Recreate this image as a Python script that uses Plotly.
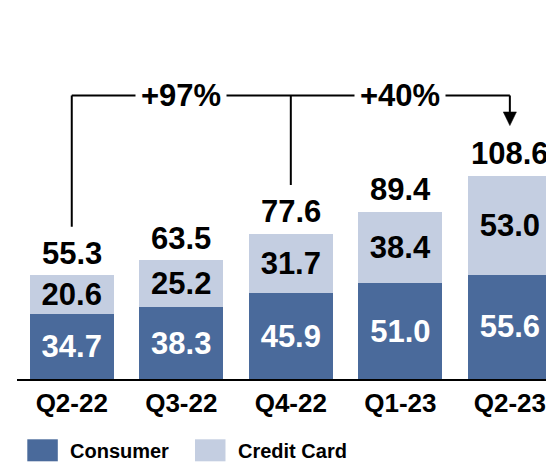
import plotly.graph_objects as go

categories = ["Q2-22", "Q3-22", "Q4-22", "Q1-23", "Q2-23"]
consumer = [34.7, 38.3, 45.9, 51.0, 55.6]
credit_card = [20.6, 25.2, 31.7, 38.4, 53.0]
totals = [55.3, 63.5, 77.6, 89.4, 108.6]
growth_labels = ["+97%", "+40%"]

C_CONSUMER = "#4A6A9B"
C_CREDIT = "#C4CEE1"
FONT = "Liberation Sans, Arial, sans-serif"
BIG = 31

xs = list(range(len(categories)))

fig = go.Figure()
fig.add_trace(go.Bar(
    x=xs, y=consumer, name="Consumer", marker=dict(color=C_CONSUMER, line=dict(width=0)),
    text=[f"{v:.1f}" for v in consumer], textposition="inside", insidetextanchor="middle",
    textangle=0, constraintext="none",
    textfont=dict(family=FONT, size=BIG, color="white", weight="bold"),
))
fig.add_trace(go.Bar(
    x=xs, y=credit_card, name="Credit Card", marker=dict(color=C_CREDIT, line=dict(width=0)),
    text=[f"{v:.1f}" for v in credit_card], textposition="inside", insidetextanchor="middle",
    textangle=0, constraintext="none",
    textfont=dict(family=FONT, size=BIG, color="black", weight="bold"),
))

annotations = []
for i, t in enumerate(totals):
    annotations.append(dict(x=i, y=t, xref="x", yref="y", text=f"{t:.1f}", showarrow=False,
                            yanchor="middle", yshift=22,
                            font=dict(family=FONT, size=BIG, color="black", weight="bold")))

# connectors
LINE_Y = 151.4
GAP = 26
shapes = []
lw = 2
shapes.append(dict(type="line", xref="x", yref="y", x0=0, x1=0, y0=totals[0] + GAP, y1=LINE_Y,
                   line=dict(color="black", width=lw)))
shapes.append(dict(type="line", xref="x", yref="y", x0=0, x1=4, y0=LINE_Y, y1=LINE_Y,
                   line=dict(color="black", width=lw)))
shapes.append(dict(type="line", xref="x", yref="y", x0=2, x1=2, y0=totals[2] + GAP, y1=LINE_Y,
                   line=dict(color="black", width=lw)))
tip = totals[4] + GAP + 0.7
head_h = 7.3
head_w = 0.06
shapes.append(dict(type="line", xref="x", yref="y", x0=4, x1=4, y0=tip + head_h, y1=LINE_Y,
                   line=dict(color="black", width=lw)))
shapes.append(dict(type="path", xref="x", yref="y",
                   path=f"M {4 - head_w} {tip + head_h} L {4 + head_w} {tip + head_h} L 4 {tip} Z",
                   fillcolor="black", line=dict(color="black", width=0.5)))

for xi, lab in zip([1, 3], growth_labels):
    annotations.append(dict(x=xi, y=LINE_Y, xref="x", yref="y", text=lab, showarrow=False,
                            bgcolor="white", borderpad=5,
                            font=dict(family=FONT, size=BIG, color="black", weight="bold")))

# custom legend
def px_x(p):
    return (p - 17) / 529.0

def px_y(p):
    return (379 - p) / 309.0

legend_items = [("Consumer", C_CONSUMER, 27.3, 69.3), ("Credit Card", C_CREDIT, 195.0, 236.7)]
for name, col, sx, tx in legend_items:
    shapes.append(dict(type="rect", xref="paper", yref="paper",
                       x0=px_x(sx), x1=px_x(sx + 30.5), y0=px_y(461.3), y1=px_y(439.3),
                       fillcolor=col, line=dict(width=0)))
    annotations.append(dict(x=px_x(tx - 1), y=px_y(450.5), xref="paper", yref="paper", text=name,
                            showarrow=False, xanchor="left", yanchor="middle",
                            font=dict(family=FONT, size=20, color="black", weight="bold")))

fig.update_layout(
    barmode="stack", bargap=0.233,
    width=546, height=465,
    margin=dict(l=17, r=0, t=70, b=86, autoexpand=False),
    plot_bgcolor="white", paper_bgcolor="white",
    showlegend=False,
    shapes=shapes, annotations=annotations,
    font=dict(family=FONT),
)
fig.update_xaxes(range=[-0.5, 4.33], tickmode="array", tickvals=xs, ticktext=categories,
                 showline=True, linecolor="black", linewidth=2, showgrid=False, zeroline=False,
                 ticks="", tickfont=dict(family=FONT, size=26, color="black", weight="bold"))
fig.update_yaxes(range=[0, 165], visible=False, showgrid=False, zeroline=False)

fig.write_html(
    "out.html",
    config={"displayModeBar": False},
    post_script="document.body.style.margin='0';document.body.style.padding='0';"
                "document.body.style.overflow='hidden';",
)
